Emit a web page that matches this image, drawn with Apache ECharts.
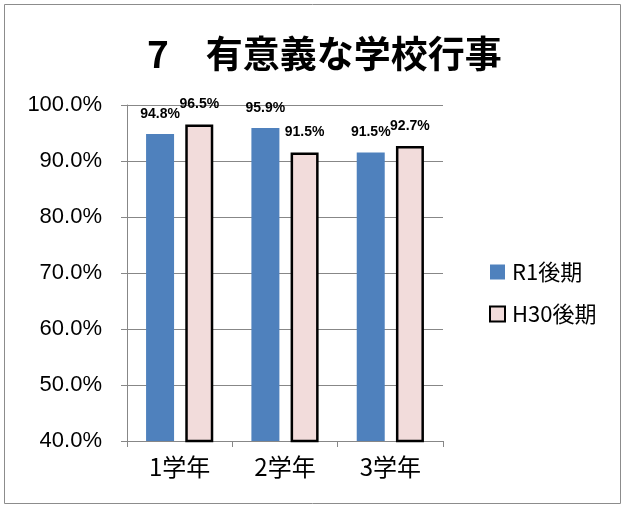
<!DOCTYPE html>
<html><head><meta charset="utf-8">
<script src="https://cdn.jsdelivr.net/npm/echarts@6/dist/echarts.min.js"></script>
<style>html,body{margin:0;padding:0;background:#fff}#c{width:625px;height:508px}</style>
</head><body><div id="c"></div>
<script>
var categories = ['1学年', '2学年', '3学年'];
var seriesNames = ['R1後期', 'H30後期'];
var r1Values = [94.8, 95.9, 91.5];
var h30Values = [96.5, 91.5, 92.7];
var titleText = '7　有意義な学校行事';

var font = '"Noto Sans CJK JP", "Liberation Sans", sans-serif';
var chart = echarts.init(document.getElementById('c'));
var labelOpt = {
  show: true, position: 'top', distance: 13,
  formatter: function (p) { return p.value.toFixed(1) + '%'; },
  fontFamily: '"Liberation Sans", sans-serif', fontWeight: 'bold', fontSize: 14, color: '#000'
};
chart.setOption({
  animation: false,
  graphic: [{ type: 'rect', shape: { x: 4.5, y: 4.5, width: 616, height: 499 },
    style: { fill: 'none', stroke: '#8c8c8c', lineWidth: 1 } }],
  title: { text: titleText, left: 142, top: 30,
    textStyle: { fontFamily: font, fontWeight: 'bold', fontSize: 37, color: '#000' } },
  legend: {
    orient: 'vertical', left: 484, top: 256, itemWidth: 15, itemHeight: 15, itemGap: 20,
    icon: 'rect',
    textStyle: { fontFamily: font, fontSize: 22, color: '#000', padding: [0, 0, 0, 2] },
    data: seriesNames
  },
  grid: { left: 127, right: 182, top: 105, bottom: 67 },
  xAxis: {
    type: 'category', data: categories,
    axisLine: { lineStyle: { color: '#878787' } },
    axisTick: { show: true, length: 6, lineStyle: { color: '#878787' } },
    axisLabel: { fontFamily: font, fontSize: 24, color: '#000', margin: 14 }
  },
  yAxis: {
    type: 'value', min: 40, max: 100, interval: 10,
    axisLine: { show: true, lineStyle: { color: '#878787' } },
    axisTick: { show: true, length: 6, lineStyle: { color: '#878787' } },
    splitLine: { lineStyle: { color: '#878787' } },
    axisLabel: { fontFamily: '"Liberation Sans", sans-serif', fontSize: 22, color: '#000', margin: 25,
      formatter: function (v) { return v.toFixed(1) + '%'; } }
  },
  series: [
    { name: seriesNames[0], type: 'bar', data: r1Values, barWidth: 28, barGap: '40%',
      itemStyle: { color: '#4F81BD' }, label: labelOpt },
    { name: seriesNames[1], type: 'bar', data: h30Values, barWidth: 28,
      itemStyle: { color: '#F2DCDB', borderColor: '#000', borderWidth: 2.5 }, label: labelOpt }
  ]
});
</script></body></html>
